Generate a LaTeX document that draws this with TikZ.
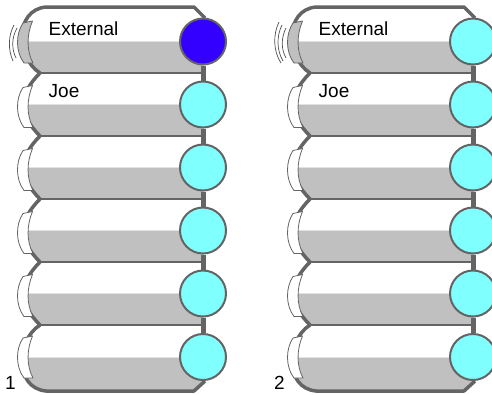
\documentclass[tikz,border=0pt]{standalone}
\usepackage{fontspec}
\setmainfont{Liberation Sans}
\definecolor{rim}{HTML}{646464}
\definecolor{panegray}{HTML}{C0C0C0}
\definecolor{seam}{HTML}{E2E2E2}
\definecolor{lampoff}{HTML}{80FFFF}
\definecolor{lampon}{HTML}{3300FF}
\tikzset{
  lampnode/.style={circle, draw=rim, line width=2pt, minimum size=46pt, inner sep=0pt, fill=lampoff},
  link/.style={draw=rim, line width=5pt},
  edgeline/.style={draw=rim, line width=3.5pt, line join=round},
  divider/.style={draw=rim, line width=1.6pt},
  flapshape/.style={draw=rim, line width=0.8pt, line join=round},
  ring/.style={draw=rim!80!black, line width=0.7pt},
  lbl/.style={anchor=base west, inner sep=0pt, font=\fontsize{19}{22}\selectfont}
}
% one stack of six rows with its lamps; #1 = colour of the top lamp
\newcommand\drawstack[1]{%
  % top row
  \begin{scope}
    \clip (204,18) -- (194,7) -- (46,7) .. controls (14,10) and (16,58) .. (40,73) -- (204,73) -- cycle;
    \fill[white] (0,0) rectangle (210,41.5);
    \fill[panegray] (0,41.5) rectangle (210,73);
    \draw[seam, line width=0.8pt] (0,41.5) -- (210,41.5);
  \end{scope}
  % middle rows
  \foreach \t/\b/\m in {73/136/104.5,136/199/167.5,199/262/230.5,262/325/293.5}{
    \begin{scope}
      \clip (204,\t) -- (40,\t) .. controls (18,\t+22) and (18,\b-22) .. (40,\b) -- (204,\b) -- cycle;
      \fill[white] (0,\t) rectangle (210,\m);
      \fill[panegray] (0,\m) rectangle (210,\b);
      \draw[seam, line width=0.8pt] (0,\m) -- (210,\m);
    \end{scope}
    \draw[edgeline] (40,\t) .. controls (18,\t+22) and (18,\b-22) .. (40,\b);
  }
  % bottom row
  \begin{scope}
    \clip (204,325) -- (40,325) .. controls (16,340) and (14,388) .. (46,391) -- (194,391) -- (204,381) -- cycle;
    \fill[white] (0,325) rectangle (210,357);
    \fill[panegray] (0,357) rectangle (210,394);
    \draw[seam, line width=0.8pt] (0,357) -- (210,357);
  \end{scope}
  % dividers between rows
  \foreach \b in {73,136,199,262,325}{
    \draw[divider] (40,\b) -- (203,\b);
  }
  % outer rims
  \draw[edgeline] (205,18) -- (194,7) -- (46,7) .. controls (14,10) and (16,58) .. (40,73);
  \draw[edgeline] (40,325) .. controls (16,340) and (14,388) .. (46,391) -- (194,391) -- (205,381);
  % curled tabs on the left ends
  \foreach \c [count=\i] in {43,107.5,170.5,233.5,296.5,358}{
    \ifnum\i=1 \def\tabfill{panegray}\else \def\tabfill{white}\fi
    \filldraw[flapshape, fill=\tabfill] (23,\c-20) -- (32.5,\c-22) .. controls (26.5,\c-8) and (26.5,\c+8) .. (33,\c+20)
      -- (24,\c+20) .. controls (15.5,\c+9) and (15.5,\c-9) .. (23,\c-20) -- cycle;
  }
  % lamps
  \node[lampnode, fill=#1] (L1) at (203,41.5) {};
  \node[lampnode] (L2) at (203,104.5) {};
  \node[lampnode] (L3) at (203,167.5) {};
  \node[lampnode] (L4) at (203,230.5) {};
  \node[lampnode] (L5) at (203,293.5) {};
  \node[lampnode] (L6) at (203,357) {};
  \draw[link] (L1) -- (L2);
  \draw[link] (L2) -- (L3);
  \draw[link] (L3) -- (L4);
  \draw[link] (L4) -- (L5);
  \draw[link] (L5) -- (L6);
  % row labels
  \node[lbl] (ext) at (48.5,35) {External};
  \node[lbl] (joe) at (48.5,97) {Joe};
}
\begin{document}
\begin{tikzpicture}[x=1pt,y=-1pt]
  \useasboundingbox (0,0) rectangle (492,394);
  \clip (0,0) rectangle (492,394);
  \fill[white] (0,0) rectangle (492,394);
  % first stack: the external line is lit
  \begin{scope}[name prefix=A-]
    \drawstack{lampon}
    \draw[ring] (14,25) .. controls (8,36) and (8,50) .. (13,61);
    \draw[ring] (17,28) .. controls (11.5,38) and (11.5,49) .. (16,58);
    \node[lbl] (num) at (5,389.5) {1};
  \end{scope}
  % second stack: the external line is ringing
  \begin{scope}[xshift=270pt, name prefix=B-]
    \drawstack{lampoff}
    \draw[ring] (9,22) .. controls (3,34) and (3,51) .. (11,63);
    \draw[ring] (12,25) .. controls (6.5,36) and (6.5,50) .. (13,61);
    \draw[ring] (16,28) .. controls (11,38) and (11,49) .. (16,58);
    \node[lbl] (num) at (4,389.5) {2};
  \end{scope}
\end{tikzpicture}
\end{document}
